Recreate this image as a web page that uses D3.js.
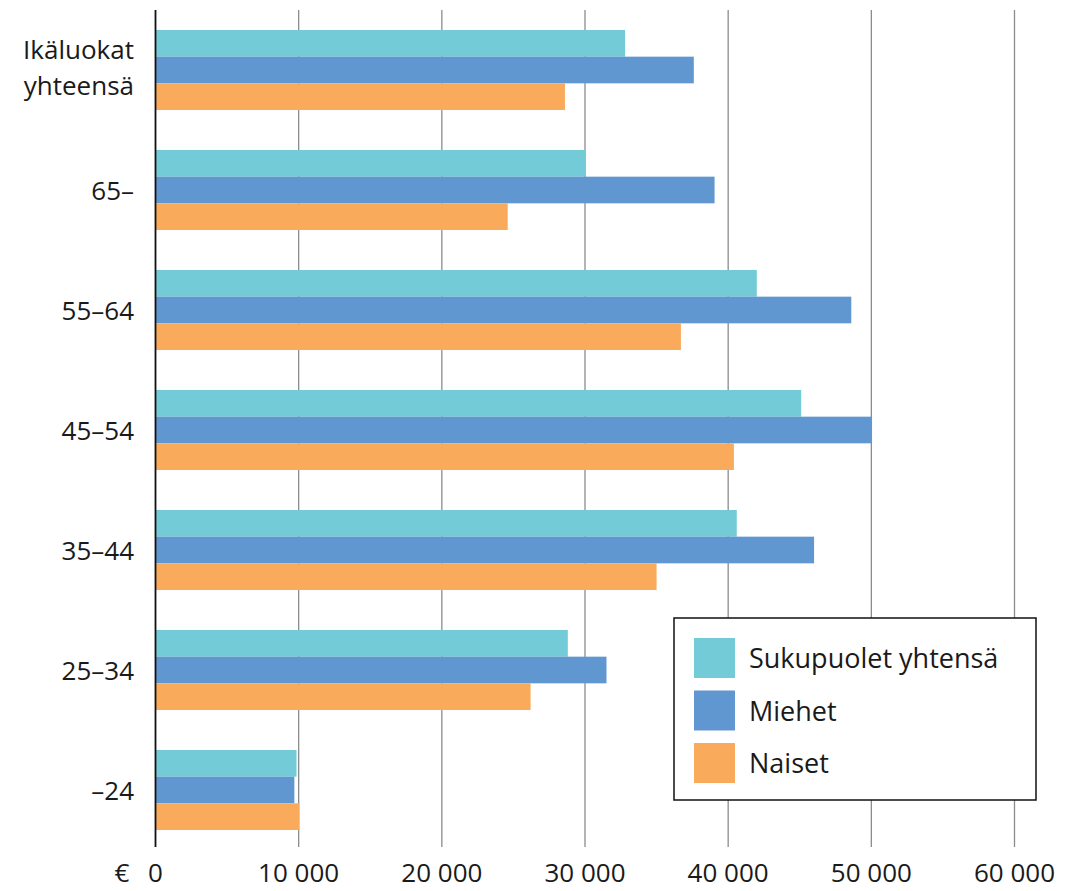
<!DOCTYPE html>
<html>
<head>
<meta charset="utf-8">
<script src="https://cdn.jsdelivr.net/npm/d3@7"></script>
<style>
  body { margin: 0; background: #fff; }
  text { font-family: "Open Sans", "Noto Sans", sans-serif; fill: #1a1a1a; }
</style>
</head>
<body>
<div id="chart"></div>
<script>
// age groups, top to bottom
var categories = ["Ikäluokat yhteensä", "65–", "55–64", "45–54", "35–44", "25–34", "–24"];
var seriesNames = ["Sukupuolet yhtensä", "Miehet", "Naiset"];
var kaikki = [32800, 30000, 42000, 45100, 40600, 28800, 9850];
var miehet = [37600, 39050, 48600, 50050, 46000, 31500, 9700];
var naiset = [28600, 24600, 36700, 40400, 35000, 26200, 10050];
var xTicks = [0, 10000, 20000, 30000, 40000, 50000, 60000];

var colors = ["#74cbd8", "#6197d0", "#f9ab5b"];
var width = 1074, height = 891;

var rows = categories.map(function (c, i) {
  return { cat: c, vals: [kaikki[i], miehet[i], naiset[i]] };
});

var svg = d3.select("#chart").append("svg")
  .attr("width", width)
  .attr("height", height);

var x = d3.scaleLinear().domain([0, 60000]).range([155.5, 1014.5]);
var y = d3.scaleBand().domain(categories).range([10, 850])
  .paddingInner(1 / 3).paddingOuter(1 / 6);
var ySub = d3.scaleBand().domain(d3.range(3)).range([0, y.bandwidth()]);

// grid lines
svg.append("g").selectAll("line")
  .data(xTicks.slice(1))
  .enter().append("line")
    .attr("x1", function (d) { return x(d); })
    .attr("x2", function (d) { return x(d); })
    .attr("y1", 10)
    .attr("y2", 847)
    .style("stroke", "#8c8c8c")
    .style("stroke-width", 1.3);

// bars
var groups = svg.append("g").selectAll("g")
  .data(rows)
  .enter().append("g")
    .attr("transform", function (d) { return "translate(0," + y(d.cat) + ")"; });

groups.selectAll("rect")
  .data(function (d) { return d.vals; })
  .enter().append("rect")
    .attr("x", x(0))
    .attr("y", function (d, i) { return ySub(i); })
    .attr("width", function (d) { return x(d) - x(0); })
    .attr("height", ySub.bandwidth())
    .style("fill", function (d, i) { return colors[i]; });

// zero axis
svg.append("line")
  .attr("x1", x(0)).attr("x2", x(0))
  .attr("y1", 10).attr("y2", 847)
  .style("stroke", "#111")
  .style("stroke-width", 1.8);

// x tick labels
var fmt = function (d) { return d === 0 ? "0" : d3.format(",")(d).replace(",", " "); };
svg.append("g").selectAll("text")
  .data(xTicks)
  .enter().append("text")
    .attr("x", function (d) { return x(d); })
    .attr("y", 882)
    .attr("text-anchor", "middle")
    .style("font-size", "26px")
    .text(fmt);

svg.append("text")
  .attr("x", 122).attr("y", 882)
  .attr("text-anchor", "middle")
  .style("font-size", "26px")
  .text("€");

// category labels
svg.append("g").selectAll("text")
  .data(categories)
  .enter().append("text")
    .attr("x", 134)
    .attr("text-anchor", "end")
    .style("font-size", "26px")
    .each(function (d) {
      var t = d3.select(this);
      var cy = y(d) + y.bandwidth() / 2;
      var parts = d.split(" ");
      if (parts.length > 1) {
        t.append("tspan").attr("x", 134).attr("y", cy - 11).text(parts[0]);
        t.append("tspan").attr("x", 134).attr("y", cy + 25).text(parts[1]);
      } else {
        t.attr("y", cy + 10).text(d);
      }
    });

// legend
var legend = svg.append("g").attr("transform", "translate(674,618)");
legend.append("rect")
  .attr("width", 362).attr("height", 182)
  .style("fill", "#fff")
  .style("stroke", "#111")
  .style("stroke-width", 1.5);

var item = legend.selectAll("g.item")
  .data(seriesNames)
  .enter().append("g")
    .attr("class", "item")
    .attr("transform", function (d, i) { return "translate(20," + (20 + i * 52.5) + ")"; });

item.append("rect")
  .attr("width", 41).attr("height", 40)
  .style("fill", function (d, i) { return colors[i]; });

item.append("text")
  .attr("x", 55).attr("y", 30)
  .style("font-size", "27px")
  .text(function (d) { return d; });
</script>
</body>
</html>
